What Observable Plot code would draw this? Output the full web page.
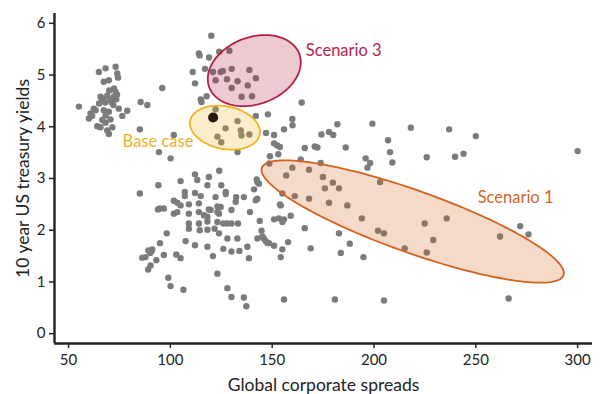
<!DOCTYPE html>
<html><head><meta charset="utf-8">
<script src="https://cdn.jsdelivr.net/npm/d3@7"></script>
<script src="https://cdn.jsdelivr.net/npm/@observablehq/plot@0.6"></script>
<style>
body{margin:0;background:#fff;}
#chart{width:603px;height:394px;}
</style>
</head><body><div id="chart"></div>
<script>
// Global corporate spreads (x) and 10 year US treasury yields (y)
const spreads = [
55.1,64.9,68.2,73.1,73.9,74.3,67.3,69.8,72.3,73.1,65.7,67.2,69.0,70.6,72.2,73.8,68.0,66.4,71.2,73.4,
62.4,63.3,60.8,60.0,61.6,67.3,69.8,68.2,74.7,78.8,76.4,66.6,68.2,70.6,64.1,65.7,69.0,71.5,69.8,72.0,70.0,65.0,
85.4,88.7,96.0,85.0,101.7,94.4,100.1,
120.1,114.0,114.4,119.0,124.0,129.0,111.0,117.0,120.9,124.7,125.8,130.1,138.8,112.1,122.2,127.8,133.0,142.0,130.1,138.0,135.0,140.1,114.9,115.3,117.8,
122.2,133.0,127.1,134.6,134.9,138.8,123.1,125.0,133.0,
142.0,147.9,147.0,150.9,159.9,160.0,155.8,150.9,152.5,153.8,148.9,153.0,164.5,
166.0,170.9,172.2,174.2,177.9,180.0,182.0,186.1,199.2,206.9,207.9,209.0,195.9,198.1,196.8,218.1,236.9,250.0,300.0,225.9,239.8,244.0,
148.6,159.9,156.9,164.0,168.1,173.8,174.9,179.8,175.9,182.8,177.9,186.9,168.1,161.1,155.0,153.8,194.0,202.0,204.9,203.0,224.9,235.7,229.1,215.1,225.9,261.9,271.8,275.9,
166.0,168.9,182.8,188.1,183.7,194.8,155.8,180.8,204.9,266.1,
112.1,113.2,118.9,124.0,105.0,94.1,85.0,107.1,107.1,112.1,114.9,118.2,125.0,127.2,127.2,122.2,136.1,132.3,141.1,142.7,142.4,143.5,142.7,141.9,
101.7,103.4,105.0,101.7,103.4,109.1,114.0,114.0,109.1,116.5,118.2,118.9,119.8,123.1,124.7,123.1,123.9,132.1,130.0,139.1,143.9,154.2,155.8,155.0,150.9,153.3,159.1,
109.1,109.1,114.0,114.4,118.2,118.2,123.1,121.7,126.0,128.0,130.0,133.2,123.9,128.0,132.9,137.8,138.6,144.8,145.2,142.7,145.9,147.6,150.9,155.0,154.2,157.8,
107.5,112.1,118.2,120.9,126.0,130.0,133.9,123.1,128.0,130.0,136.1,137.3,106.4,99.0,100.1,98.2,94.9,96.8,93.1,90.8,90.1,89.2,91.1,87.8,86.2,90.3,89.1,94.7,96.8,102.9,105.0,93.9,146.8,148.4
];
const yields = [
4.39,5.06,5.13,5.16,5.03,4.95,4.87,4.90,4.74,4.68,4.58,4.55,4.60,4.52,4.58,4.62,4.47,4.50,4.47,4.53,
4.35,4.32,4.26,4.16,4.21,4.32,4.29,4.22,4.35,4.31,4.21,4.13,4.08,4.14,4.01,3.99,3.93,3.99,3.86,4.42,4.70,4.45,
4.48,4.42,4.75,3.95,3.84,3.51,3.39,
5.76,5.42,5.38,5.34,5.45,5.47,5.06,5.12,5.06,5.06,5.08,5.12,5.10,4.84,4.90,4.92,4.88,4.94,4.75,4.80,4.58,4.59,4.53,4.48,4.59,
4.34,4.11,3.97,3.93,3.83,3.85,3.81,3.70,3.51,
4.21,4.24,3.88,3.84,4.15,4.03,3.95,3.68,3.64,3.61,3.43,3.47,4.47,
3.59,3.62,3.60,3.85,3.90,3.84,4.05,3.60,4.06,3.74,3.51,3.31,3.39,3.30,3.21,3.98,3.95,3.82,3.53,3.41,3.42,3.48,
3.29,3.21,3.06,3.37,3.17,3.30,3.03,2.92,2.81,2.81,2.53,2.48,2.61,2.66,2.71,2.50,2.23,1.99,1.94,2.93,2.13,2.23,1.81,1.65,1.57,1.88,2.08,1.92,
2.04,1.65,1.94,1.74,1.56,1.48,0.66,0.66,0.64,0.68,
3.08,2.97,3.03,3.15,2.95,2.87,2.71,2.74,2.66,2.72,2.66,2.87,2.87,2.74,2.70,2.64,2.64,2.64,2.79,2.93,2.98,2.90,2.61,2.58,
2.57,2.53,2.48,2.32,2.35,2.50,2.52,2.35,2.32,2.29,2.26,2.40,2.39,2.46,2.45,2.35,2.32,2.55,2.39,2.35,2.18,2.48,2.21,2.16,2.21,2.23,2.28,
2.13,2.03,2.13,2.00,2.17,2.01,2.16,2.03,2.13,2.13,2.13,2.13,1.94,1.84,1.84,1.68,1.46,1.99,1.88,1.84,1.84,1.76,1.70,1.63,1.48,1.77,
1.79,1.71,1.68,1.50,1.64,1.59,1.60,1.16,0.88,0.71,0.70,0.53,0.85,1.08,0.92,1.94,1.75,1.52,1.42,1.60,1.56,1.61,1.63,1.48,1.47,1.32,1.24,2.42,2.42,1.53,1.46,2.40,1.79,1.75
];

// Highlighted base-case point
const baseSpread = [121.0];
const baseYield = [4.18];

// Scenario ellipses (centre and half-axis vectors, in data units)
const ellipseNames = ["Scenario 1", "Scenario 3", "Base case"];
const ellipseCx = [219.0, 141.2, 126.8];
const ellipseCy = [2.168, 5.086, 3.983];
const ellipseMajorDx = [74.06, 22.1, 17.06];
const ellipseMajorDy = [-1.039, 0.323, -0.134];
const ellipseMinorDx = [-5.1, 5.73, -2.05];
const ellipseMinorDy = [-0.565, -0.606, -0.404];
const ellipseColors = ["#d4621c", "#b3203f", "#f2b320"];

// Annotation labels
const labelNames = ["Scenario 3", "Base case", "Scenario 1"];
const labelX = [166.5, 111.3, 250.9];
const labelY = [5.47, 3.71, 2.62];
const labelColors = ["#b3264a", "#e9b229", "#d3652b"];
const labelAnchors = ["start", "end", "start"];

const xTicks = [50, 100, 150, 200, 250, 300];
const yTicks = [0, 1, 2, 3, 4, 5, 6];
const xDomain = [43.1, 307.3];
const yDomain = [-0.19, 6.19];

const points = spreads.map((x, i) => ({x, y: yields[i]}));
const basePts = baseSpread.map((x, i) => ({x, y: baseYield[i]}));

function ellipsePath(i) {
  const n = 160, out = [];
  for (let k = 0; k <= n; k++) {
    const t = 2 * Math.PI * k / n;
    out.push({
      x: ellipseCx[i] + ellipseMajorDx[i] * Math.cos(t) + ellipseMinorDx[i] * Math.sin(t),
      y: ellipseCy[i] + ellipseMajorDy[i] * Math.cos(t) + ellipseMinorDy[i] * Math.sin(t)
    });
  }
  return out;
}

const labels = labelNames.map((t, i) => ({t, x: labelX[i], y: labelY[i], c: labelColors[i], a: labelAnchors[i]}));

const ellipseMarks = ellipseNames.map((n, i) =>
  Plot.line(ellipsePath(i), {x: "x", y: "y", fill: ellipseColors[i], fillOpacity: 0.24, stroke: ellipseColors[i], strokeWidth: 1.8, curve: "linear"})
);

const chart = Plot.plot({
  width: 603,
  height: 394,
  marginLeft: 54,
  marginRight: 11,
  marginTop: 13,
  marginBottom: 51,
  style: {fontFamily: "Lato, sans-serif", fontSize: "15px", color: "#222", background: "#fff"},
  x: {domain: xDomain, ticks: xTicks, label: null},
  y: {domain: yDomain, ticks: yTicks, label: null},
  marks: [
    Plot.dot(points, {x: "x", y: "y", r: 3.2, fill: "#7b7b7b", stroke: "none"}),
    ...ellipseMarks,
    Plot.dot(basePts, {x: "x", y: "y", r: 5, fill: "#231a0c", stroke: "none"}),
    Plot.axisX({ticks: xTicks, tickSize: 5, tickPadding: 6, tickFormat: d => String(d), stroke: "#222", strokeWidth: 1.5, label: null}),
    Plot.axisY({ticks: yTicks, tickSize: 5, tickPadding: 4, tickFormat: d => String(d), stroke: "#222", strokeWidth: 1.5, label: null}),
    Plot.ruleX([xDomain[0]], {stroke: "#222", strokeWidth: 2.4}),
    Plot.ruleY([yDomain[0]], {stroke: "#222", strokeWidth: 2.4}),
    Plot.text(labels.filter(d => d.a === "start"), {x: "x", y: "y", text: "t", fill: "c", textAnchor: "start", fontSize: 16.5, lineAnchor: "middle"}),
    Plot.text(labels.filter(d => d.a === "end"), {x: "x", y: "y", text: "t", fill: "c", textAnchor: "end", fontSize: 16.5, lineAnchor: "middle"}),
    Plot.text(["Global corporate spreads"], {frameAnchor: "bottom", dy: 42, text: d => d, fontSize: 17.5, fill: "#222", textAnchor: "middle", lineAnchor: "middle"}),
    Plot.text(["10 year US treasury yields"], {frameAnchor: "left", dx: -31, rotate: -90, text: d => d, fontSize: 17.5, fill: "#222", textAnchor: "middle", lineAnchor: "middle"})
  ]
});
document.getElementById("chart").appendChild(chart);
</script>
</body></html>
